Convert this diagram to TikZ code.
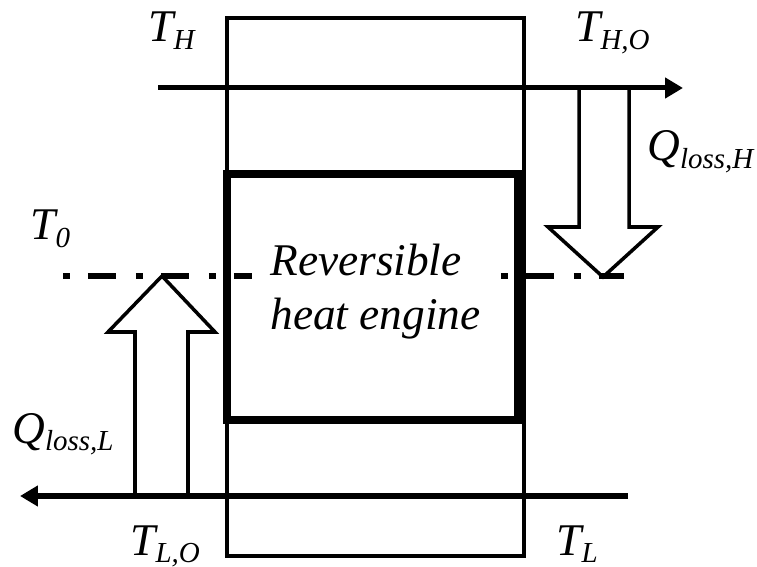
\documentclass[tikz,border=0pt]{standalone}
\usepackage{fontspec}
\setmainfont{Liberation Serif}
\usepackage{tikz}
\usetikzlibrary{arrows.meta}
\newcommand{\lsub}[1]{\raisebox{-4pt}{\fontsize{16.5}{18}\selectfont #1}}

\begin{document}
\begin{tikzpicture}[x=0.02cm, y=-0.02cm,
  lbl/.style={font=\fontsize{25.8}{31.3}\selectfont\itshape, inner sep=0pt, anchor=base west},
  wall/.style={line width=2pt},
  stream/.style={line width=2.85pt, -{Triangle[length=0.36cm, width=0.4cm]}},
  hollow/.style={line width=2pt, line join=miter},
  ambient/.style={line width=2.85pt, dash pattern=on 0.14cm off 0.36cm on 0.56cm off 0.40cm}]
\useasboundingbox (0,0) rectangle (757,567);
% outer box and engine
\draw[wall] (227,18) rectangle (524,556);
\draw[line width=4.5pt] (227,174) rectangle (518,420);
% hot and cold streams
\coordinate (hin) at (158,88);
\coordinate (hout) at (683,88);
\coordinate (cin) at (628,496);
\coordinate (cout) at (20,496);
\draw[stream] (hin) -- (hout);
\draw[stream] (cin) -- (cout);
% ambient level
\coordinate (amb0) at (63,276);
\coordinate (amb1) at (624,276);
\draw[ambient] (amb0) -- (amb1);
\node[lbl, fill=white, align=left, inner xsep=0.36cm] (engine) at (252,330) {Reversible\\heat engine};
% heat losses
\draw[hollow] (579,88) -- (579,227) -- (548,227) -- (603,277) -- (658,227) -- (629,227) -- (629,88);
\draw[hollow] (135,496) -- (135,332) -- (108,332) -- (162,276) -- (215,332) -- (188,332) -- (188,496);
% labels
\node[lbl] (TH) at (148,42) {T\lsub{H}};
\node[lbl] (THO) at (575,42) {T\lsub{H,O}};
\node[lbl] (QH) at (647,161) {Q\lsub{loss,H}};
\node[lbl] (T0) at (30,240) {T\lsub{0}};
\node[lbl] (QL) at (12,443) {Q\lsub{loss,L}};
\node[lbl] (TLO) at (130,555) {T\lsub{L,O}};
\node[lbl] (TL) at (556,555) {T\lsub{L}};
\end{tikzpicture}
\end{document}
